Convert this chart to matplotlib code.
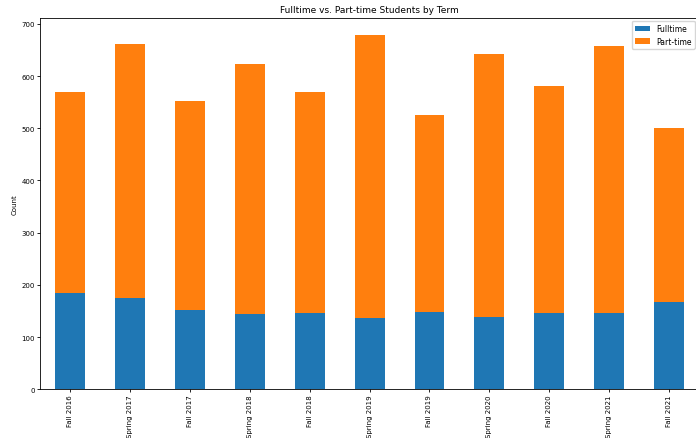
import matplotlib
matplotlib.use("Agg")
import matplotlib.pyplot as plt
import pandas as pd

terms = ["Fall 2016", "Spring 2017", "Fall 2017", "Spring 2018", "Fall 2018",
         "Spring 2019", "Fall 2019", "Spring 2020", "Fall 2020", "Spring 2021",
         "Fall 2021"]
fulltime = [185, 175, 152, 144, 146, 137, 149, 139, 146, 147, 168]
parttime = [384, 486, 400, 480, 423, 541, 376, 504, 435, 510, 333]

df = pd.DataFrame({"Fulltime": fulltime, "Part-time": parttime}, index=terms)

fig = plt.figure(figsize=(6.96, 4.39), dpi=100)
ax = fig.add_axes([0.0575, 0.111, 0.947, 0.8465])
df.plot(kind="bar", stacked=True, ax=ax, width=0.5)

ax.set_title("Fulltime vs. Part-time Students by Term", fontsize=6.5, pad=4)
ax.set_ylabel("Count", fontsize=5, labelpad=3)
ax.set_ylim(0, 712)
ax.tick_params(labelsize=5, length=2, width=0.6, pad=1.5)
for s in ax.spines.values():
    s.set_linewidth(0.6)
ax.legend(fontsize=5.5, loc="upper right", borderaxespad=0,
          bbox_to_anchor=(0.998, 0.95), bbox_transform=fig.transFigure)

fig.savefig("out.png", dpi=100)
